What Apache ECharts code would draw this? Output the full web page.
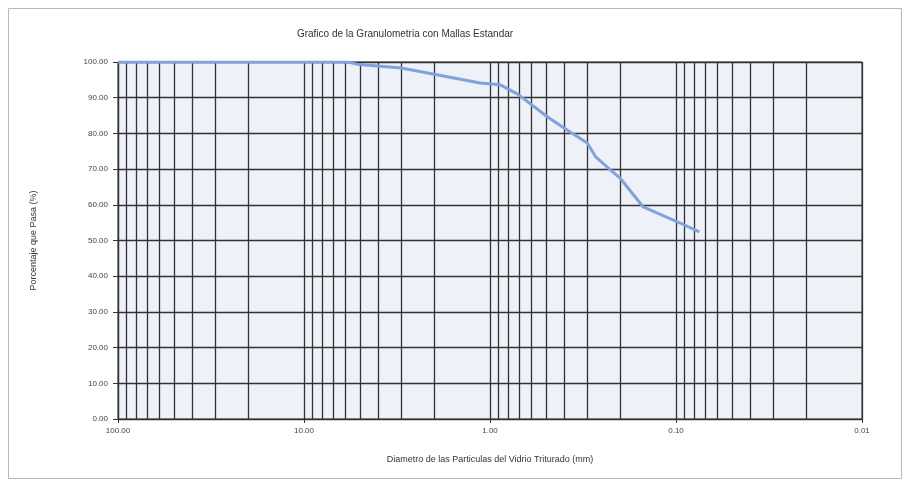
<!DOCTYPE html>
<html>
<head>
<meta charset="utf-8">
<script src="https://cdn.jsdelivr.net/npm/echarts@6/dist/echarts.min.js"></script>
<style>html,body{margin:0;padding:0;background:#fff;}#c{width:907px;height:487px;}</style>
</head>
<body>
<div id="c"></div>
<script>
var diameters = [100, 5.8, 5.2, 3.0, 1.13, 0.88, 0.71, 0.49, 0.40, 0.30, 0.27, 0.235, 0.20, 0.15, 0.095, 0.075];
var percentPassing = [100, 100, 99.4, 98.3, 94.1, 93.6, 91.0, 84.6, 81.5, 77.3, 73.4, 70.6, 67.5, 59.4, 54.9, 52.4];
var minorDiameters = [90,80,70,60,50,40,30,20, 9,8,7,6,5,4,3,2, 0.9,0.8,0.7,0.6,0.5,0.4,0.3,0.2, 0.09,0.08,0.07,0.06,0.05,0.04,0.03,0.02];
var titleText = 'Grafico de la Granulometria con Mallas Estandar';
var xName = 'Diametro de las Particulas del Vidrio Triturado (mm)';
var yName = 'Porcentaje que Pasa (%)';

var font = "'Liberation Sans Narrow','Liberation Sans',sans-serif";
var chart = echarts.init(document.getElementById('c'));
chart.setOption({
  backgroundColor: '#ffffff',
  animation: false,
  graphic: [{
    type: 'rect', left: 6, top: 6, shape: {width: 893, height: 470},
    style: {fill: 'none', stroke: '#b8b8b8', lineWidth: 1}, silent: true, z: -10
  }],
  title: {
    text: titleText, left: 400, top: 24, textAlign: 'center',
    textStyle: {fontFamily: font, fontSize: 10, fontWeight: 'normal', color: '#333'}
  },
  grid: {left: 118, right: 45, top: 62, bottom: 68, show: true, backgroundColor: '#eef1f8', borderColor: '#333', borderWidth: 1},
  xAxis: {
    type: 'log', logBase: 10, min: 0.01, max: 100, inverse: true,
    name: xName, nameLocation: 'middle', nameGap: 36,
    nameTextStyle: {fontFamily: font, fontSize: 9, color: '#333'},
    axisLine: {show: true, lineStyle: {color: '#333', width: 1.2}},
    axisTick: {show: true, length: 4, lineStyle: {color: '#333'}},
    axisLabel: {fontFamily: font, fontSize: 8, color: '#444', margin: 8, formatter: function(v){return Number(v).toFixed(2);}},
    splitLine: {show: true, lineStyle: {color: '#333', width: 1.3}}
  },
  yAxis: {
    type: 'value', min: 0, max: 100, interval: 10,
    name: yName, nameLocation: 'middle', nameGap: 80, nameRotate: 90,
    nameTextStyle: {fontFamily: font, fontSize: 9, color: '#333'},
    axisLine: {show: true, lineStyle: {color: '#333', width: 1.2}},
    axisTick: {show: true, length: 5, lineStyle: {color: '#333'}},
    axisLabel: {fontFamily: font, fontSize: 8, color: '#444', margin: 10, formatter: function(v){return Number(v).toFixed(2);}},
    splitLine: {show: true, lineStyle: {color: '#333', width: 1.3}}
  },
  series: [{
    type: 'line',
    data: diameters.map(function(d, i){return [d, percentPassing[i]];}),
    symbol: 'none', smooth: false,
    lineStyle: {color: '#7fa3dd', width: 3},
    z: 5,
    markLine: {
      silent: true, symbol: ['none', 'none'], animation: false,
      label: {show: false},
      lineStyle: {color: '#333', width: 1.3, type: 'solid'},
      data: minorDiameters.map(function(d){return {xAxis: d};}),
      z: 1
    }
  }]
});
</script>
</body>
</html>
